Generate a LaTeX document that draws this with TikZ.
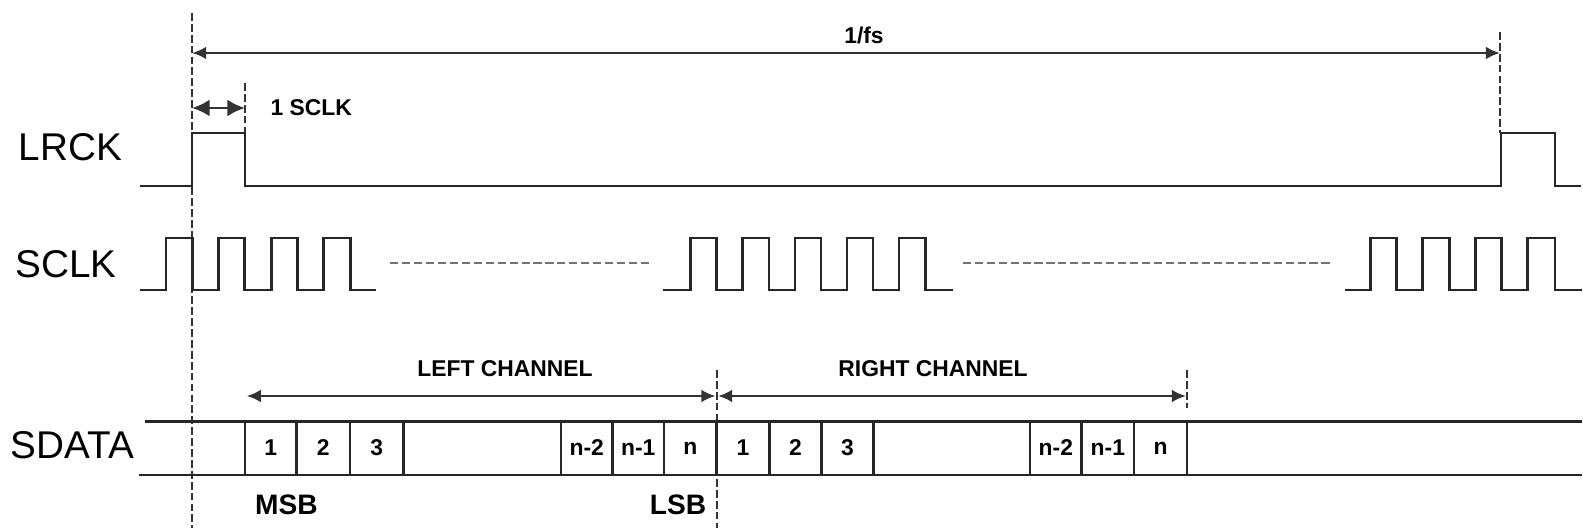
\documentclass[tikz,border=0pt]{standalone}
\usepackage{fontspec}
\setmainfont{Liberation Sans}
\usetikzlibrary{arrows.meta}

\tikzset{
  sig/.style={line width=0.8pt, black!85},
  bus/.style={line width=0.7pt, black!85},
  marker/.style={line width=0.6pt, black!80, dash pattern=on 2.2pt off 0.9pt},
  gapline/.style={line width=0.7pt, black!55, dash pattern=on 2.3pt off 1.1pt},
  dim/.style={line width=0.7pt, black!80},
  signame/.style={font=\fontsize{11}{13}\selectfont, inner sep=0pt, anchor=west},
  tag/.style={font=\fontsize{6.5}{8}\selectfont\bfseries, inner sep=0pt},
  edgetag/.style={font=\fontsize{8}{10}\selectfont\bfseries, inner sep=0pt},
}

\begin{document}
\begin{tikzpicture}[x=0.01cm, y=-0.01cm, >={Latex[length=4pt,width=3.6pt]}]
\useasboundingbox (0,0) rectangle (1583,528);
% Signal names
\node[signame] (lrck)  at (18,147)  {LRCK};
\node[signame] (sclk)  at (15,264)  {SCLK};
\node[signame] (sdata) at (10,445)  {SDATA};
% Timing markers
\coordinate (f0) at (192,13);   \coordinate (f0b) at (192,528);
\coordinate (s1) at (245,83);   \coordinate (s1b) at (245,133);
\coordinate (f1) at (1500,32);  \coordinate (f1b) at (1500,133);
\coordinate (c0) at (716.7,370); \coordinate (c0b) at (716.7,528);
\coordinate (c1) at (1187,370);  \coordinate (c1b) at (1187,408);
\draw[marker] (f0) -- (f0b);
\draw[marker] (s1) -- (s1b);
\draw[marker] (f1) -- (f1b);
\draw[marker] (c0) -- (c0b);
\draw[marker] (c1) -- (c1b);
% Frame period 1/fs
\draw[dim, <->] (192,53) -- (1500,53);
\node[tag] (fs) at (864,35) {1/fs};
% One SCLK
\draw[dim, <->, >={Latex[length=5pt,width=4.8pt]}] (192,108) -- (245,108);
\node[tag, anchor=west] (onesclk) at (270,108) {1 SCLK};
% LRCK
\draw[sig] (140,186) -- (192,186) -- (192,133) -- (245,133) -- (245,186)
  -- (1501,186) -- (1501,133) -- (1555,133) -- (1555,186) -- (1581,186);
% SCLK, first burst
\draw[sig] (140,290) -- (166,290) -- (166,238) -- (192.3,238) -- (192.3,290)
  -- (218.6,290) -- (218.6,238) -- (244.9,238) -- (244.9,290)
  -- (271.2,290) -- (271.2,238) -- (297.5,238) -- (297.5,290)
  -- (323.8,290) -- (323.8,238) -- (350.1,238) -- (350.1,290) -- (376,290);
\draw[gapline] (390,263) -- (651.7,263);
% SCLK, middle burst
\draw[sig] (663,290) -- (690.6,290) -- (690.6,238) -- (716.7,238) -- (716.7,290)
  -- (742.7,290) -- (742.7,238) -- (769,238) -- (769,290)
  -- (795,290) -- (795,238) -- (821,238) -- (821,290)
  -- (847,290) -- (847,238) -- (873,238) -- (873,290)
  -- (899,290) -- (899,238) -- (925.7,238) -- (925.7,290) -- (952.7,290);
\draw[gapline] (962.7,263) -- (1331.7,263);
% SCLK, last burst
\draw[sig] (1345,290) -- (1370.7,290) -- (1370.7,238) -- (1396.7,238) -- (1396.7,290)
  -- (1422.7,290) -- (1422.7,238) -- (1449.3,238) -- (1449.3,290)
  -- (1475.7,290) -- (1475.7,238) -- (1501.5,238) -- (1501.5,290)
  -- (1527.7,290) -- (1527.7,238) -- (1555,238) -- (1555,290) -- (1581.7,290);
% Channels
\draw[dim, <->] (246.7,396) -- (715.5,396);
\draw[dim, <->] (718,396) -- (1186,396);
\node[tag] (left)  at (505,369) {LEFT CHANNEL};
\node[tag] (right) at (933,369) {RIGHT CHANNEL};
% SDATA bus
\draw[bus] (145,421.5) -- (1581.7,421.5);
\draw[bus] (139,475) -- (1581.7,475);
\draw[line width=1.1pt, black!85] (716.7,421.5) -- (1187,421.5);
\foreach \x in {245,296.7,350,403.3,561,612.7,664,716.7,769.3,821.7,873.3,1030,1081.7,1134,1187}
  \draw[bus] (\x,421.5) -- (\x,475);
% Bit labels
\node[tag] (l1)  at (270.8,448) {1};
\node[tag] (l2)  at (323.3,448) {2};
\node[tag] (l3)  at (376.7,448) {3};
\node[tag] (ln2) at (586.8,448) {n-2};
\node[tag] (ln1) at (638.3,448) {n-1};
\node[tag] (ln)  at (690.3,448) {n};
\node[tag] (r1)  at (743,448)   {1};
\node[tag] (r2)  at (795.5,448) {2};
\node[tag] (r3)  at (847.5,448) {3};
\node[tag] (rn2) at (1055.8,448) {n-2};
\node[tag] (rn1) at (1107.8,448) {n-1};
\node[tag] (rn)  at (1160.5,448) {n};
\node[edgetag] (msb) at (286.5,505) {MSB};
\node[edgetag] (lsb) at (678,505) {LSB};
\end{tikzpicture}
\end{document}
